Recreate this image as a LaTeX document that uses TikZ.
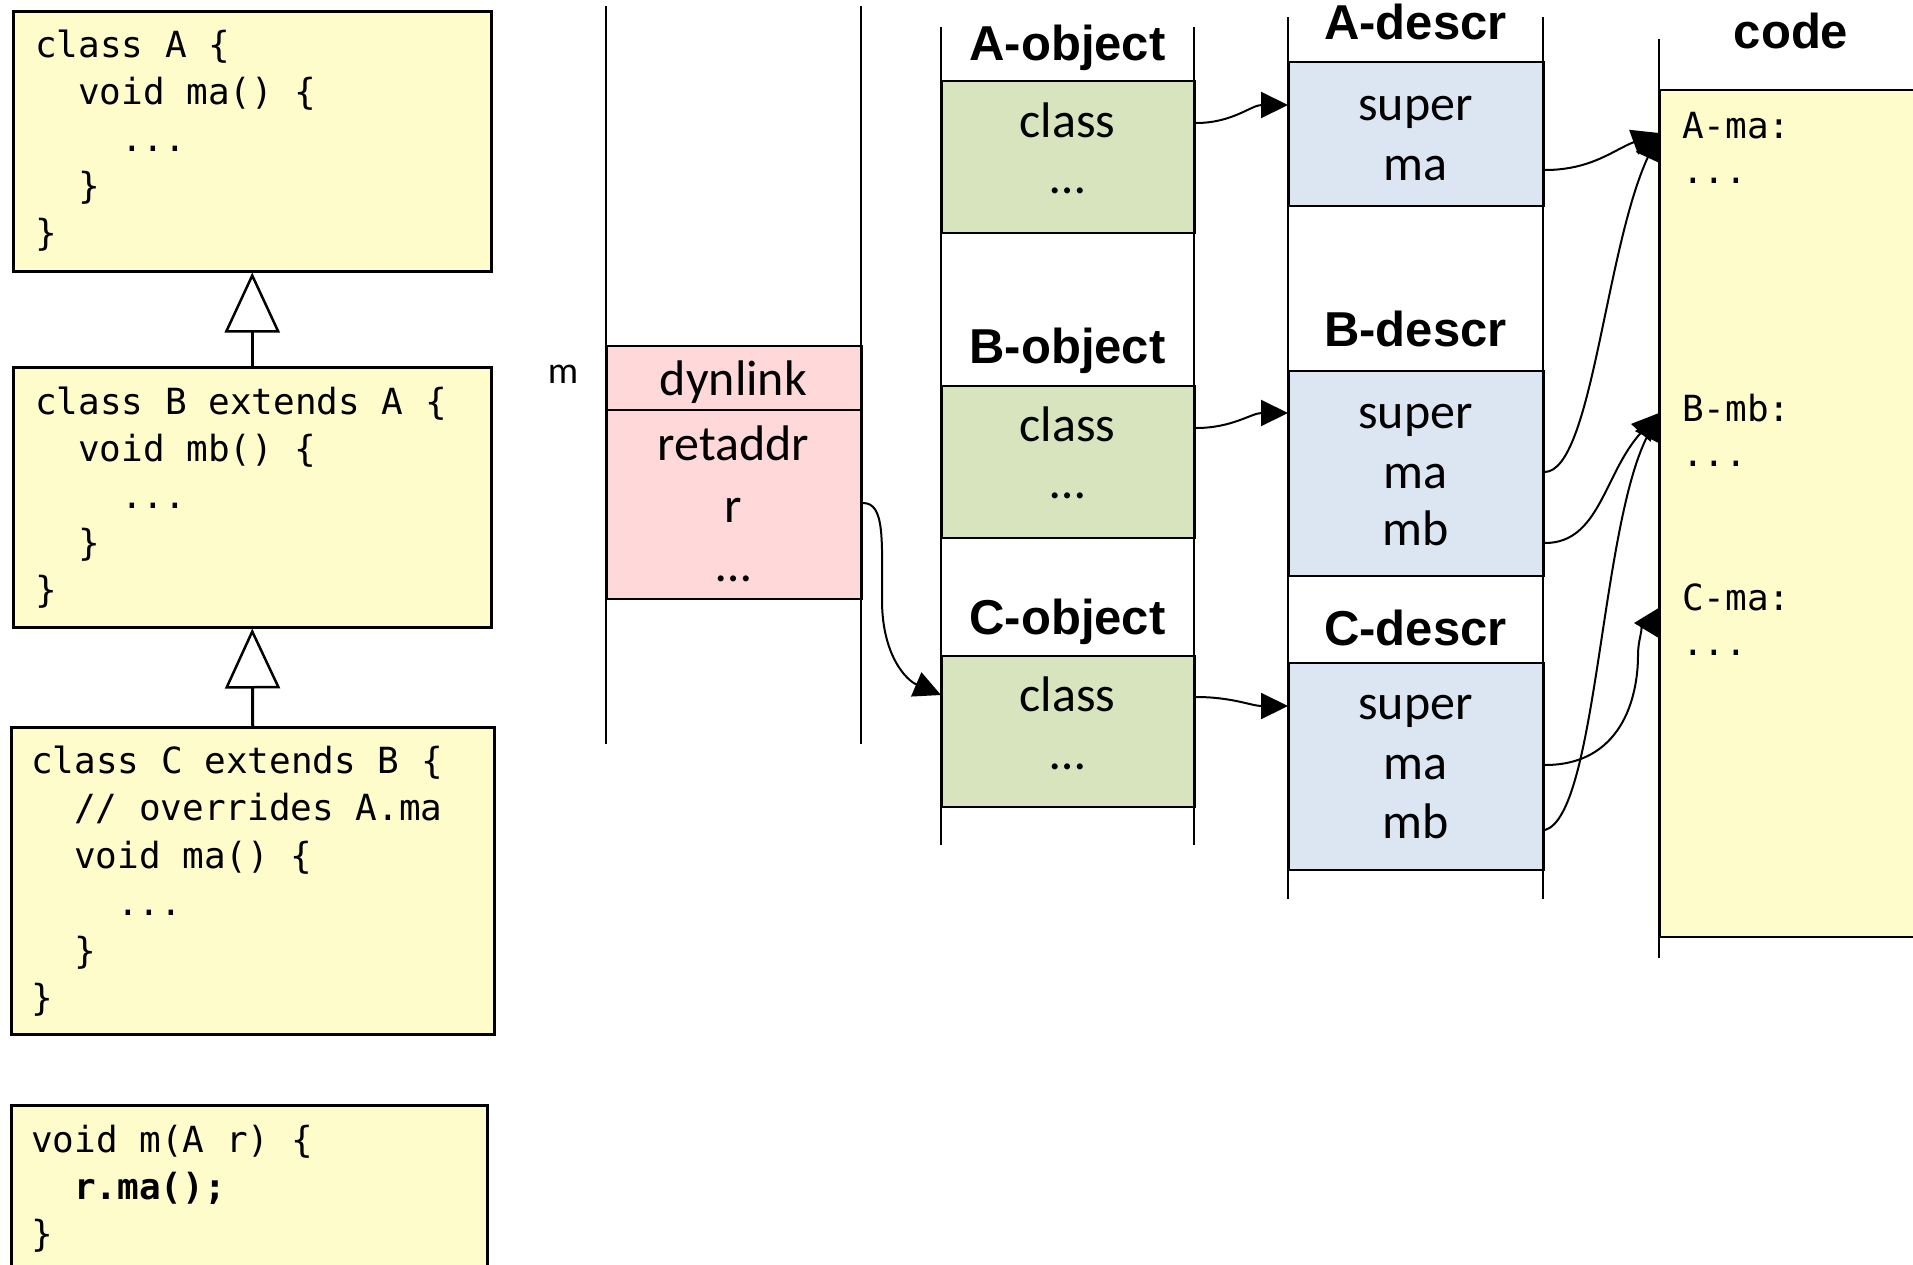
\documentclass[tikz,border=0pt]{standalone}
\usepackage{fontspec}
\usetikzlibrary{arrows.meta,calc}
\newfontfamily\monof{DejaVu Sans Mono}
\newfontfamily\calf{Carlito}
\newfontfamily\hdrf{Liberation Sans}
\definecolor{codey}{RGB}{255,252,204}
\definecolor{pinkc}{RGB}{255,217,217}
\definecolor{greenc}{RGB}{215,228,189}
\definecolor{bluec}{RGB}{220,230,242}
\begin{document}
\begin{tikzpicture}[x=1pt,y=1pt,
  codebox/.style={draw, line width=2.5pt, fill=codey, anchor=north west, inner sep=0},
  cellbox/.style={draw, line width=2pt, anchor=north west, inner sep=0},
  col/.style={line width=2pt},
  code/.style={font=\monof\fontsize{36}{40}\selectfont, anchor=base west, inner sep=0},
  boldcode/.style={font=\monof\bfseries\fontsize{36}{40}\selectfont, anchor=base west, inner sep=0},
  cell/.style={font=\calf\fontsize{50}{56}\selectfont, anchor=base, inner sep=0},
  lbl/.style={font=\calf\fontsize{38}{44}\selectfont, anchor=base, inner sep=0},
  hdr/.style={font=\hdrf\bfseries\fontsize{49}{56}\selectfont, anchor=base, inner sep=0},
  conn/.style={line width=2pt, -{Triangle[length=27pt,width=26pt]}},
  inh/.style={line width=3pt, -{Triangle[open,length=60pt,width=55pt,line width=2.5pt]}}
]
\useasboundingbox (0,0) rectangle (1913,-1264);
\clip (0,0) rectangle (1913,-1264);

% ---------- left: class code boxes ----------
\node[codebox, minimum width=478pt, minimum height=260pt] (clsA) at (12,-10) {};
\node[codebox, minimum width=478pt, minimum height=260pt] (clsB) at (12,-366) {};
\node[codebox, minimum width=483pt, minimum height=307pt] (clsC) at (10,-726) {};
\node[codebox, minimum width=476pt, minimum height=175pt] (mfun) at (10,-1104) {};

\draw[inh] (clsB.north) -- (clsA.south);
\draw[inh] (clsC.north) -- (clsB.south);

\node[code] (a1) at (35,-57) {class A \{};
\node[code] (a2) at (78,-104) {void ma() \{};
\node[code] (a3) at (121,-151) {...};
\node[code] (a4) at (78,-198) {\}};
\node[code] (a5) at (35,-245) {\}};

\node[code] (b1) at (35,-414) {class B extends A \{};
\node[code] (b2) at (78,-461) {void mb() \{};
\node[code] (b3) at (121,-508) {...};
\node[code] (b4) at (78,-555) {\}};
\node[code] (b5) at (35,-602) {\}};

\node[code] (c1) at (31,-773) {class C extends B \{};
\node[code] (c2) at (74,-820.5) {// overrides A.ma};
\node[code] (c3) at (74,-868) {void ma() \{};
\node[code] (c4) at (117,-915.5) {...};
\node[code] (c5) at (74,-963) {\}};
\node[code] (c6) at (31,-1010.5) {\}};

\node[code] (m1) at (31,-1152) {void m(A r) \{};
\node[boldcode] (m2) at (74,-1199) {r.ma();};
\node[code] (m3) at (31,-1246) {\}};

% ---------- stack ----------
\node[cellbox, fill=pinkc, minimum width=255pt, minimum height=253pt] (pk) at (606,-345) {};
\draw[line width=2pt] ([yshift=-65pt]pk.north west) -- ([yshift=-65pt]pk.north east);
\draw[col] (606,-6) -- (606,-744);
\draw[col] (861,-6) -- (861,-744);
\node[lbl] (mlab) at (563,-383) {m};
\node[cell] (dyn) at (733.5,-395) {dynlink};
\node[cell] (ret) at (733.5,-460) {retaddr};
\node[cell] (rr) at (733.5,-522) {r};
\node[cell] (sdots) at (733.5,-581) {…};

% ---------- objects ----------
\node[cellbox, fill=greenc, minimum width=253pt, minimum height=152pt] (Ag) at (941,-80) {};
\node[cellbox, fill=greenc, minimum width=253pt, minimum height=152pt] (Bg) at (941,-385) {};
\node[cellbox, fill=greenc, minimum width=253pt, minimum height=151pt] (Cg) at (941,-655) {};
\draw[col] (941,-27) -- (941,-845);
\draw[col] (1194,-27) -- (1194,-845);
\node[hdr] (Ah) at (1067.5,-60) {A-object};
\node[hdr] (Bh) at (1067.5,-363) {B-object};
\node[hdr] (Ch) at (1067.5,-634) {C-object};
\node[cell] (Acl) at (1067.5,-137) {class};
\node[cell] (Ado) at (1067.5,-193) {…};
\node[cell] (Bcl) at (1067.5,-441) {class};
\node[cell] (Bdo) at (1067.5,-498) {…};
\node[cell] (Ccl) at (1067.5,-711) {class};
\node[cell] (Cdo) at (1067.5,-769) {…};

% ---------- descriptors ----------
\node[cellbox, fill=bluec, minimum width=255pt, minimum height=144pt] (Ab) at (1288,-61) {};
\node[cellbox, fill=bluec, minimum width=255pt, minimum height=205pt] (Bb) at (1288,-370) {};
\node[cellbox, fill=bluec, minimum width=255pt, minimum height=207pt] (Cb) at (1288,-662) {};
\draw[col] (1288,-17) -- (1288,-899);
\draw[col] (1543,-17) -- (1543,-899);
\node[hdr] (Adh) at (1415.5,-39) {A-descr};
\node[hdr] (Bdh) at (1415.5,-346) {B-descr};
\node[hdr] (Cdh) at (1415.5,-645) {C-descr};
\node[cell] (As) at (1415.5,-120) {super};
\node[cell] (Am) at (1415.5,-180) {ma};
\node[cell] (Bs) at (1415.5,-428) {super};
\node[cell] (Bm) at (1415.5,-488) {ma};
\node[cell] (Bmb) at (1415.5,-545) {mb};
\node[cell] (Cs) at (1415.5,-719) {super};
\node[cell] (Cm) at (1415.5,-779) {ma};
\node[cell] (Cmb) at (1415.5,-838) {mb};

% ---------- code ----------
\node[codebox, line width=2pt, minimum width=270pt, minimum height=847pt] (code) at (1659,-89) {};
\draw[col] (1659,-39) -- (1659,-958);
\node[hdr] (codeh) at (1791,-48) {code};
\node[code] (k1) at (1682,-138) {A-ma:};
\node[code] (k2) at (1682,-183) {...};
\node[code] (k3) at (1682,-421) {B-mb:};
\node[code] (k4) at (1682,-466) {...};
\node[code] (k5) at (1682,-610) {C-ma:};
\node[code] (k6) at (1682,-655) {...};

% ---------- connectors ----------
\draw[conn] ([yshift=-43pt]Ag.north east) to[out=0,in=180] ([yshift=-44pt]Ab.north west);
\draw[conn] ([yshift=-43pt]Bg.north east) to[out=0,in=180] ([yshift=-43pt]Bb.north west);
\draw[conn] ([yshift=-42pt]Cg.north east) to[out=0,in=180] ([yshift=-44pt]Cb.north west);

\coordinate (rS) at ([yshift=-158pt]pk.north east);
\coordinate (rE) at ([yshift=-40pt]Cg.north west);
\draw[conn] (rS) .. controls +(22,0) and +(0,60) .. ($(rS)+(19,-97)$)
  .. controls +(0,-55) and +(-35,15) .. (rE);

\coordinate (amaT) at ([yshift=-44pt]code.north west);
\coordinate (bmbT) at ([yshift=-324pt]code.north west);
\coordinate (cmaT) at ([yshift=-534pt]code.north west);

\draw[conn] ([yshift=-109pt]Ab.north east) to[out=0,in=200] (amaT);
\draw[conn] ([yshift=-102pt]Bb.north east) .. controls +(47,2) and +(-54,-117) .. (amaT);
\draw[conn] ([yshift=-173pt]Bb.north east) .. controls +(55,0) and +(-55,-60) .. (bmbT);
\draw[line width=2pt, -{Triangle[reversed,length=25pt,width=30pt]}]
  ([yshift=-103pt]Cb.north east) .. controls +(75,0) and +(0,-45) .. ($(cmaT)+(-21,-32)$)
  .. controls +(0,20) and +(-12,0) .. (cmaT);
\draw[conn] ([yshift=-168pt]Cb.north east) .. controls +(52,15) and +(-59,-117) .. (bmbT);
\end{tikzpicture}
\end{document}
